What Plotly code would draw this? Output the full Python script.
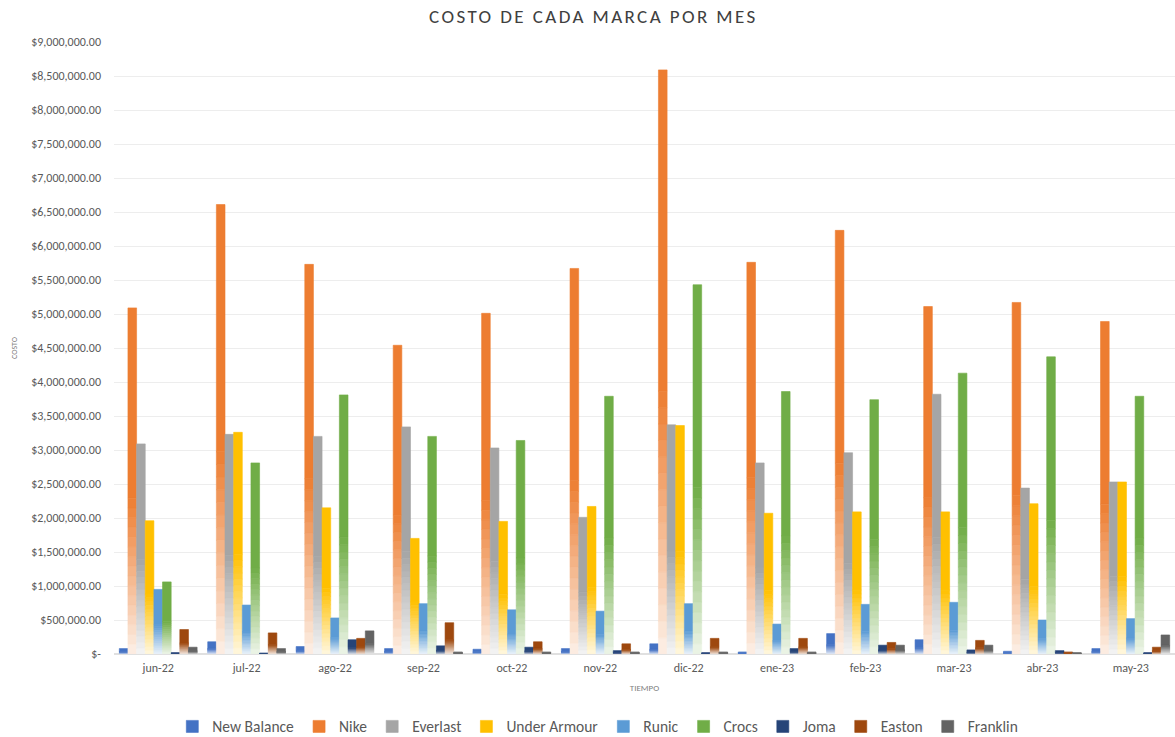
import plotly.graph_objects as go

months = ["jun-22", "jul-22", "ago-22", "sep-22", "oct-22", "nov-22",
          "dic-22", "ene-23", "feb-23", "mar-23", "abr-23", "may-23"]

new_balance = [80000, 180000, 110000, 80000, 70000, 80000, 150000, 30000, 300000, 210000, 40000, 80000]
nike = [5090000, 6610000, 5730000, 4540000, 5010000, 5670000, 8590000, 5760000, 6230000, 5110000, 5170000, 4890000]
everlast = [3090000, 3230000, 3200000, 3340000, 3030000, 2010000, 3370000, 2810000, 2960000, 3820000, 2440000, 2530000]
under_armour = [1960000, 3260000, 2150000, 1700000, 1950000, 2170000, 3360000, 2070000, 2090000, 2090000, 2210000, 2530000]
runic = [950000, 720000, 530000, 740000, 650000, 630000, 740000, 440000, 730000, 760000, 500000, 520000]
crocs = [1060000, 2810000, 3810000, 3200000, 3140000, 3790000, 5430000, 3860000, 3740000, 4130000, 4370000, 3790000]
joma = [20000, 15000, 210000, 120000, 100000, 50000, 20000, 80000, 130000, 60000, 50000, 20000]
easton = [360000, 310000, 230000, 460000, 180000, 150000, 230000, 230000, 170000, 200000, 30000, 100000]
franklin = [100000, 80000, 340000, 30000, 30000, 30000, 30000, 30000, 130000, 130000, 20000, 280000]

series_names = ["New Balance", "Nike", "Everlast", "Under Armour", "Runic",
                "Crocs", "Joma", "Easton", "Franklin"]
series_values = [new_balance, nike, everlast, under_armour, runic,
                 crocs, joma, easton, franklin]
series_colors = ["#4472C4", "#ED7D31", "#A5A5A5", "#FFC000", "#5B9BD5",
                 "#70AD47", "#264478", "#9E480E", "#636363"]

y_tick_values = list(range(0, 9_000_001, 500_000))
y_tick_labels = ["$-"] + [f"${v:,.2f}" for v in y_tick_values[1:]]

FONT = "Calibri, Carlito, Lato, sans-serif"
TXT = "#595959"


def mix(hex_color, t):
    h = hex_color.lstrip("#")
    r, g, b = (int(h[i:i + 2], 16) for i in (0, 2, 4))
    r = round(255 + (r - 255) * t)
    g = round(255 + (g - 255) * t)
    b = round(255 + (b - 255) * t)
    return f"rgb({r},{g},{b})"


K = 16          # number of fade slices in the lower part
SOLID_FROM = 0.45

fig = go.Figure()
for name, vals, col in zip(series_names, series_values, series_colors):
    fig.add_trace(go.Bar(
        x=months, y=[v * (1 - SOLID_FROM) for v in vals],
        base=[v * SOLID_FROM for v in vals],
        name=name, marker=dict(color=col, line=dict(width=0.6, color=col)),
        offsetgroup=name, legendgroup=name, showlegend=True,
    ))
    for k in range(K):
        f0 = SOLID_FROM * k / K
        f1 = SOLID_FROM * (k + 1) / K
        t = 0.12 + 0.88 * ((k + 0.5) / K)
        c = mix(col, t)
        fig.add_trace(go.Bar(
            x=months, y=[v * (f1 - f0) for v in vals],
            base=[v * f0 for v in vals],
            name=name, marker=dict(color=c, line=dict(width=0.6, color=c)),
            offsetgroup=name, legendgroup=name, showlegend=False,
            hoverinfo="skip",
        ))

fig.update_layout(
    width=1175, height=737,
    paper_bgcolor="white", plot_bgcolor="white",
    margin=dict(l=114, r=0, t=42, b=83, autoexpand=False),
    barmode="group", bargap=0.12, bargroupgap=0.0,
    font=dict(family=FONT, color=TXT),
    title=dict(text="<span style='letter-spacing:2.4px'>COSTO DE CADA MARCA POR MES</span>",
               x=0.505, xref="container", xanchor="center",
               y=0.978, yanchor="middle",
               font=dict(size=19, color="#404040", family=FONT)),
    legend=dict(orientation="h", x=0.456, xanchor="center", y=-0.119,
                yanchor="middle", font=dict(size=15.5, color=TXT),
                traceorder="normal", itemwidth=30),
    showlegend=True,
)
fig.update_xaxes(
    showgrid=False, showline=False, ticks="", ticklabelstandoff=5,
    tickfont=dict(size=12, color=TXT, family=FONT),
    title=dict(text="TIEMPO", font=dict(size=9, color="#7F7F7F"), standoff=10),
)
fig.update_yaxes(
    range=[0, 9_000_000], tickvals=y_tick_values, ticktext=y_tick_labels,
    showgrid=True, gridcolor="#EDEDED", gridwidth=1, zeroline=True,
    zerolinecolor="#E0E0E0", ticks="", ticklabelstandoff=12,
    tickfont=dict(size=12, color=TXT, family=FONT),
    title=dict(text="COSTO", font=dict(size=8, color="#7F7F7F"), standoff=12),
)

fig.write_html("out.html")
